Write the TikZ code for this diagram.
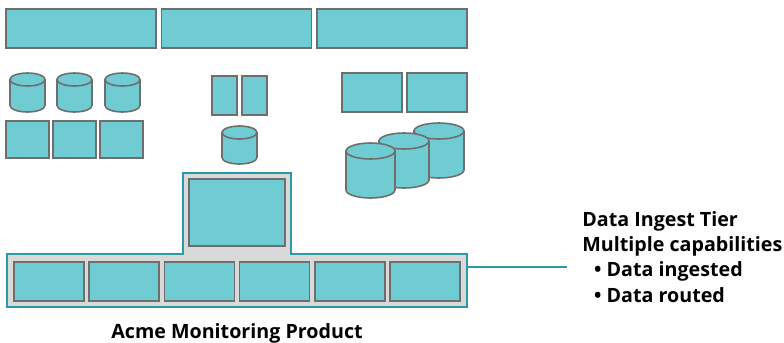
\documentclass[tikz,border=0pt]{standalone}
\usepackage{fontspec}
\setmainfont{Open Sans}
\usepackage{tikz}
\usetikzlibrary{positioning}

\definecolor{tealfill}{HTML}{6FCCD3}
\definecolor{boxgray}{HTML}{6E6E6E}
\definecolor{tiergray}{HTML}{D9D9D9}
\definecolor{tierline}{HTML}{2A9AA6}

\tikzset{
  box/.style={draw=boxgray, fill=tealfill, line width=0.9pt, inner sep=0pt, outer sep=0pt},
  lbl/.style={font=\bfseries\fontsize{11.2}{14.4}\selectfont},
  % database drum: width, height, lid radius (px), origin top left
  pics/dbcyl/.style n args={3}{code={
    \draw[box] (0,#3) -- (0,#2-#3)
      arc[start angle=180, end angle=360, x radius=#1*0.01cm, y radius=#3*0.02cm]
      -- (#1,#3)
      arc[start angle=0, end angle=180, x radius=#1*0.01cm, y radius=#3*0.02cm] -- cycle;
    \draw[boxgray, line width=0.9pt] (0,#3)
      arc[start angle=180, end angle=360, x radius=#1*0.01cm, y radius=#3*0.02cm];
  }}
}

\begin{document}
\begin{tikzpicture}[x=0.02cm,y=-0.02cm]
  \useasboundingbox (0,0) rectangle (784,342);
  % top row of servers
  \node[box, anchor=north west, minimum width=3cm, minimum height=0.78cm] (srv1) at (6,9) {};
  \node[box, minimum width=3cm, minimum height=0.78cm, right=0.11cm of srv1] (srv2) {};
  \node[box, minimum width=3cm, minimum height=0.78cm, right=0.11cm of srv2] (srv3) {};
  % left group
  \pic (dbA) at (10,73) {dbcyl={35}{39}{6.5}};
  \pic (dbB) at (57,73) {dbcyl={35}{39}{6.5}};
  \pic (dbC) at (105,73) {dbcyl={35}{39}{6.5}};
  \node[box, anchor=north west, minimum width=0.86cm, minimum height=0.74cm] (hostA) at (6,121) {};
  \node[box, minimum width=0.86cm, minimum height=0.74cm, right=0.08cm of hostA] (hostB) {};
  \node[box, minimum width=0.86cm, minimum height=0.74cm, right=0.08cm of hostB] (hostC) {};
  % middle group
  \node[box, anchor=north west, minimum width=0.5cm, minimum height=0.78cm] (appA) at (212,76) {};
  \node[box, minimum width=0.5cm, minimum height=0.78cm, right=0.1cm of appA] (appB) {};
  \pic (dbD) at (222,126) {dbcyl={35}{38}{6.5}};
  % right group
  \node[box, anchor=north west, minimum width=1.2cm, minimum height=0.78cm] (netA) at (342,73) {};
  \node[box, minimum width=1.2cm, minimum height=0.78cm, right=0.1cm of netA] (netB) {};
  \pic (storeC) at (414,123) {dbcyl={50}{55}{8}};
  \pic (storeB) at (379,133) {dbcyl={50}{55}{8}};
  \pic (storeA) at (346,143) {dbcyl={49}{55}{8}};
  % ingest tier
  \draw[fill=tiergray, draw=tierline, line width=0.9pt]
    (7,254) -- (183,254) -- (183,173) -- (291,173) -- (291,254) -- (467,254)
    -- (467,307) -- (7,307) -- cycle;
  \coordinate (tierend) at (467,267);
  \node[box, anchor=north west, minimum width=1.92cm, minimum height=1.34cm] (console) at (189,179) {};
  \node[box, anchor=north west, minimum width=1.4cm, minimum height=0.78cm] (ing1) at (14,262) {};
  \node[box, minimum width=1.4cm, minimum height=0.78cm, right=0.104cm of ing1] (ing2) {};
  \node[box, minimum width=1.4cm, minimum height=0.78cm, right=0.104cm of ing2] (ing3) {};
  \node[box, minimum width=1.4cm, minimum height=0.78cm, right=0.104cm of ing3] (ing4) {};
  \node[box, minimum width=1.4cm, minimum height=0.78cm, right=0.104cm of ing4] (ing5) {};
  \node[box, minimum width=1.4cm, minimum height=0.78cm, right=0.104cm of ing5] (ing6) {};
  % labels
  \node[lbl] (product) at (237,333) {Acme Monitoring Product};
  \node[lbl, align=left, anchor=north west, inner sep=0pt] (tier) at (582,211)
    {Data Ingest Tier\\Multiple capabilities\\\hspace{0.6em}\textbullet{} Data ingested\\\hspace{0.6em}\textbullet{} Data routed};
  \draw[tierline, line width=0.9pt] (tierend) -- ([xshift=-0.3cm]tierend -| tier.west);
\end{tikzpicture}
\end{document}
